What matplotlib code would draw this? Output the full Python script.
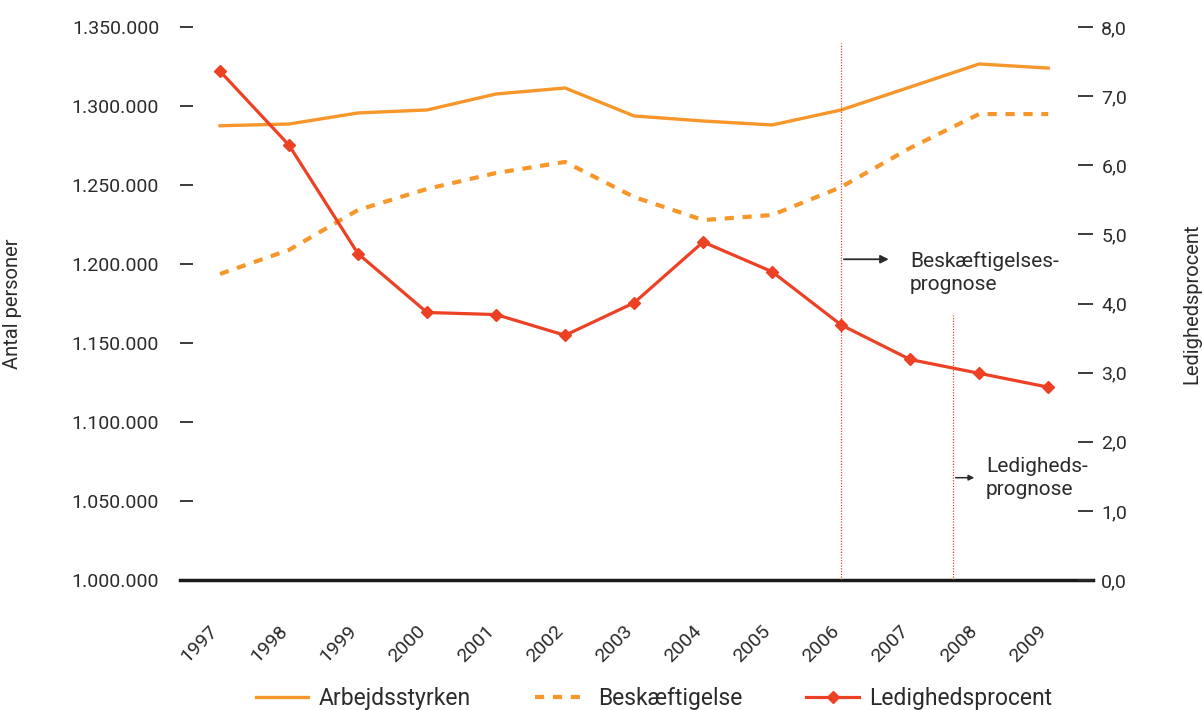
# Arbejdsstyrke, beskæftigelse og ledighed 1997-2009
import numpy as np
import matplotlib.pyplot as plt
import matplotlib.transforms as mtransforms

plt.rcParams['font.family'] = ['Roboto', 'DejaVu Sans']

# Data
years = [1997, 1998, 1999, 2000, 2001, 2002, 2003, 2004, 2005, 2006, 2007, 2008, 2009]
arbejdsstyrken = [1287500, 1288600, 1295600, 1297500, 1307600, 1311400, 1293700,
                  1290500, 1288000, 1297500, 1312000, 1326600, 1324000]
beskaeftigelse = [1193700, 1208900, 1234200, 1247500, 1257600, 1264600, 1242400,
                  1227800, 1231000, 1248700, 1273400, 1294900, 1294900]
ledighed = [7.36, 6.29, 4.72, 3.87, 3.84, 3.54, 4.01, 4.89, 4.46, 3.69, 3.19, 2.99, 2.79]

left_ticks = [1000000, 1050000, 1100000, 1150000, 1200000, 1250000, 1300000, 1350000]
left_labels = ['1.000.000', '1.050.000', '1.100.000', '1.150.000',
               '1.200.000', '1.250.000', '1.300.000', '1.350.000']
right_ticks = [0, 1, 2, 3, 4, 5, 6, 7, 8]
right_labels = ['0,0', '1,0', '2,0', '3,0', '4,0', '5,0', '6,0', '7,0', '8,0']

prognose_besk = 2006
prognose_led = 2007.62

orange = '#F7962B'
red = '#EC4125'
txt = '#2b2b2b'

fig = plt.figure(figsize=(12.02, 7.10), dpi=100)
W, H = 1202, 710
ax = fig.add_axes([180 / W, 1 - 580 / H, (1093 - 180) / W, (580 - 27) / H])
ax2 = ax.twinx()

ax.plot(years, arbejdsstyrken, color=orange, lw=2.4, label='Arbejdsstyrken')
ax.plot(years, beskaeftigelse, color=orange, lw=3.0, ls=(0, (2.2, 2.1)),
        label='Beskæftigelse')
ax2.plot(years, ledighed, color=red, lw=2.3, marker='D', ms=6.5,
         label='Ledighedsprocent')

ax.set_xlim(1996.42, 2009.65)
ax.set_ylim(1000000, 1350000)
ax2.set_ylim(0, 8)

# prognose lines
ax2.axvline(prognose_besk, ymin=0, ymax=(580 - 43) / 553, color=red, lw=0.9, ls=(0, (1, 1.2)))
ax2.axvline(prognose_led, ymin=0, ymax=(580 - 315) / 553, color=red, lw=0.9, ls=(0, (1, 1.2)))

ax2.annotate('', xy=(2006.73, 4.64), xytext=(prognose_besk, 4.64),
             arrowprops=dict(arrowstyle='-|>', color=txt, lw=1.3, mutation_scale=12))
ax2.text(2007.0, 4.45, 'Beskæftigelses-\nprognose', fontsize=15, color=txt,
         va='center', ha='left', linespacing=1.25)
ax2.annotate('', xy=(2007.97, 1.48), xytext=(prognose_led, 1.48),
             arrowprops=dict(arrowstyle='-|>', color=txt, lw=1.1, mutation_scale=8))
ax2.text(2008.1, 1.48, 'Ledigheds-\nprognose', fontsize=15, color=txt,
         va='center', ha='left', linespacing=1.25)

# axes styling
for a in (ax, ax2):
    for s in ('top', 'left', 'right'):
        a.spines[s].set_visible(False)
ax.spines['bottom'].set_linewidth(2.5)
ax.spines['bottom'].set_color('#1a1a1a')
ax2.spines['bottom'].set_visible(False)

ax.set_yticks(left_ticks)
ax.set_yticklabels(left_labels)
ax.tick_params(axis='y', direction='in', length=9.5, width=1.3, color=txt,
               labelcolor=txt, labelsize=14, pad=15)
ax2.set_yticks(right_ticks)
ax2.set_yticklabels(right_labels)
ax2.tick_params(axis='y', direction='in', length=11, width=1.3, color=txt,
                labelcolor=txt, labelsize=14, pad=6)

ax.set_xticks(years)
ax.set_xticklabels([str(y) for y in years], rotation=45, ha='right', va='top',
                   rotation_mode='anchor')
ax.tick_params(axis='x', length=0, labelsize=14, labelcolor=txt, pad=30)
shift = mtransforms.ScaledTranslation(-11 / 100, 0, fig.dpi_scale_trans)
for lab in ax.get_xticklabels():
    lab.set_transform(lab.get_transform() + shift)

ax.set_ylabel('Antal personer', fontsize=14.5, color=txt, labelpad=0)
ax.yaxis.set_label_coords((22 - 180) / 913, 0.5)
ax2.set_ylabel('Ledighedsprocent', fontsize=14.5, color=txt)
ax2.yaxis.set_label_coords((1182 - 180) / 913, 0.5)

h1, l1 = ax.get_legend_handles_labels()
h2, l2 = ax2.get_legend_handles_labels()
fig.legend(h1 + h2, l1 + l2, loc='center', bbox_to_anchor=(654 / W, 1 - 699 / H),
           ncol=3, frameon=False, fontsize=16.5, handlelength=2.3,
           handletextpad=0.45, columnspacing=2.8, labelcolor=txt)

fig.savefig('out.png', dpi=100)
